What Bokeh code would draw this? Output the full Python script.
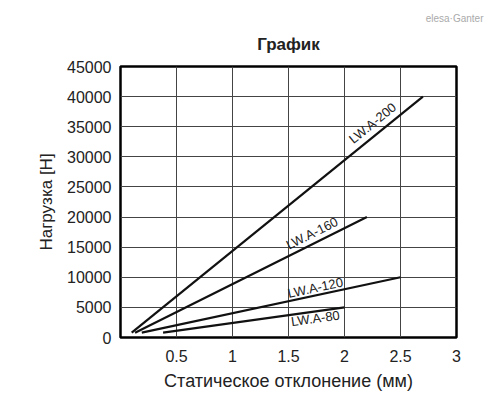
from bokeh.plotting import figure
from bokeh.models import Range1d, FixedTicker, Label, Title
from bokeh.embed import file_html
from bokeh.resources import INLINE

# ---- data ----
x_ticks = [0.5, 1, 1.5, 2, 2.5, 3]
y_ticks = [0, 5000, 10000, 15000, 20000, 25000, 30000, 35000, 40000, 45000]

lwa200_x = [0.10, 2.7]
lwa200_y = [800, 40000]
lwa160_x = [0.13, 2.2]
lwa160_y = [800, 20000]
lwa120_x = [0.19, 2.5]
lwa120_y = [800, 10000]
lwa80_x = [0.38, 2.0]
lwa80_y = [800, 5000]

series_names = ["LW.A-200", "LW.A-160", "LW.A-120", "LW.A-80"]
label_x = [2.25, 1.71, 1.74, 1.74]
label_y = [35600, 17300, 8260, 3180]
label_angle = [39, 26.5, 12, 8]

FONT = "Liberation Sans"

p = figure(width=484, height=394, output_backend="svg", toolbar_location=None,
           title=None,
           x_range=Range1d(0, 3), y_range=Range1d(0, 45000),
           min_border_left=120, min_border_right=28,
           min_border_top=66, min_border_bottom=57)

# small spacer between frame and title
p.add_layout(Title(text=" ", text_font_size="1px", standoff=6), "above")
p.add_layout(Title(text="График", align="center",
                   text_font=FONT, text_font_style="bold", text_font_size="17px",
                   text_color="#222222", standoff=8), "above")
p.add_layout(Title(text="elesa·Ganter", align="right", offset=-27, text_font=FONT,
                   text_font_size="10px", text_font_style="normal",
                   text_color="#aaaaaa", standoff=9), "above")

p.background_fill_color = "white"
p.border_fill_color = "white"
p.outline_line_color = "black"
p.outline_line_width = 2.5

for ax in (p.xaxis[0], p.yaxis[0]):
    ax.axis_line_color = None
    ax.major_tick_line_color = None
    ax.minor_tick_line_color = None
    ax.major_label_text_font = FONT
    ax.major_label_text_font_size = "16px"
    ax.major_label_text_color = "#222222"
    ax.axis_label_text_font = FONT
    ax.axis_label_text_font_style = "normal"
    ax.axis_label_text_color = "#222222"

p.xaxis[0].ticker = FixedTicker(ticks=x_ticks)
p.xaxis[0].major_label_overrides = {0.5: "0.5", 1: "1", 1.5: "1.5", 2: "2", 2.5: "2.5", 3: "3"}
p.xaxis[0].major_label_standoff = 6
p.xaxis[0].axis_label = "Статическое отклонение (мм)"
p.xaxis[0].axis_label_text_font_size = "18px"
p.xaxis[0].axis_label_standoff = 6
p.yaxis[0].ticker = FixedTicker(ticks=y_ticks)
p.yaxis[0].major_label_standoff = 3
p.yaxis[0].axis_label = "Нагрузка [H]"
p.yaxis[0].axis_label_text_font_size = "17px"
p.yaxis[0].axis_label_standoff = 8

p.xgrid.ticker = FixedTicker(ticks=x_ticks)
p.ygrid.ticker = FixedTicker(ticks=y_ticks)
for g in (p.xgrid[0], p.ygrid[0]):
    g.grid_line_color = "#444444"
    g.grid_line_width = 1
    g.grid_line_alpha = 1.0

for xs, ys in [(lwa200_x, lwa200_y), (lwa160_x, lwa160_y),
               (lwa120_x, lwa120_y), (lwa80_x, lwa80_y)]:
    p.line(xs, ys, line_color="#111111", line_width=2.2)

for name, lx, ly, ang in zip(series_names, label_x, label_y, label_angle):
    p.add_layout(Label(x=lx, y=ly, text=name, angle=ang, angle_units="deg",
                       text_align="center", text_baseline="middle",
                       text_font=FONT, text_font_size="13px", text_color="#222222"))

open("out.html", "w").write(file_html(p, INLINE))
